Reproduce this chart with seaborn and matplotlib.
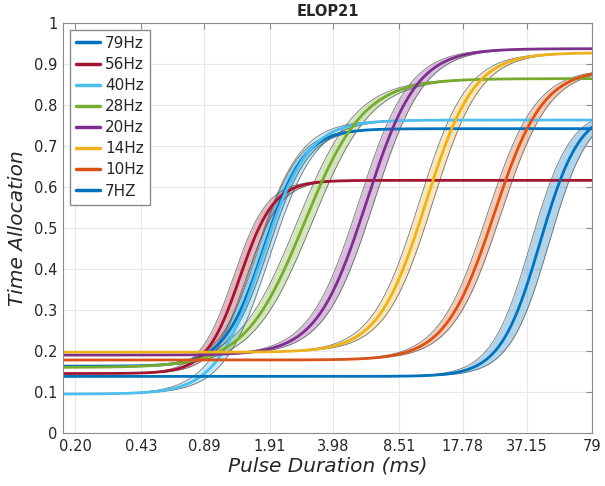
import numpy as np
import pandas as pd
import matplotlib.pyplot as plt
import seaborn as sns

# Fitted sigmoid parameters (x50 in ms, width and band shift in decades)
labels = ['79Hz', '56Hz', '40Hz', '28Hz', '20Hz', '14Hz', '10Hz', '7HZ']
colors = ['#0072BD', '#A2142F', '#4DBEEE', '#77AC30', '#7E2F8E', '#EDB120', '#D95319', '#0072BD']
bottom = [0.163, 0.145, 0.095, 0.160, 0.190, 0.197, 0.178, 0.138]
top = [0.742, 0.616, 0.763, 0.864, 0.937, 0.927, 0.888, 0.790]
x50 = [1.78, 1.35, 1.74, 2.84, 5.83, 11.6, 25.5, 43.4]
width = [0.100, 0.085, 0.115, 0.150, 0.126, 0.120, 0.123, 0.100]
ci_shift = [0.025, 0.033, 0.038, 0.038, 0.038, 0.034, 0.034, 0.046]

xticks = [0.20, 0.43, 0.89, 1.91, 3.98, 8.51, 17.78, 37.15, 79]
xtick_labels = ['0.20', '0.43', '0.89', '1.91', '3.98', '8.51', '17.78', '37.15', '79']
yticks = [0, 0.1, 0.2, 0.3, 0.4, 0.5, 0.6, 0.7, 0.8, 0.9, 1]
ytick_labels = ['0', '0.1', '0.2', '0.3', '0.4', '0.5', '0.6', '0.7', '0.8', '0.9', '1']


def sigmoid(x, b, t, m, w):
    return b + (t - b) / (1 + np.exp(-(np.log10(x) - np.log10(m)) / w))


xs = np.logspace(np.log10(0.174), np.log10(79.5), 500)
rows = []
for lab, b, t, m, w in zip(labels, bottom, top, x50, width):
    rows.append(pd.DataFrame({'dur': xs, 'alloc': sigmoid(xs, b, t, m, w), 'freq': lab}))
df = pd.concat(rows, ignore_index=True)

sns.set_style('white')
plt.rcParams['font.family'] = ['DejaVu Sans']

fig = plt.figure(figsize=(6.05, 4.86), dpi=100)
ax = fig.add_axes([0.104, 0.109, 0.875, 0.844])

# confidence bands
for c, b, t, m, w, d in zip(colors, bottom, top, x50, width, ci_shift):
    hi = sigmoid(xs, b, t, m / 10 ** d, w)
    lo = sigmoid(xs, b, t, m * 10 ** d, w)
    ax.fill_between(xs, lo, hi, color=c, alpha=0.3, lw=0, zorder=1)
    ax.plot(xs, hi, color='#555555', lw=0.6, alpha=0.8, zorder=1.5)
    ax.plot(xs, lo, color='#555555', lw=0.6, alpha=0.8, zorder=1.5)

sns.lineplot(data=df, x='dur', y='alloc', hue='freq', hue_order=labels,
             palette=dict(zip(labels, colors)), lw=2, estimator=None, sort=False, ax=ax, zorder=2)

ax.set_xscale('log')
ax.set_xlim(0.174, 79.5)
ax.set_ylim(0, 1)
ax.set_xticks(xticks)
ax.set_xticklabels(xtick_labels)
ax.minorticks_off()
ax.set_yticks(yticks)
ax.set_yticklabels(ytick_labels)
ax.grid(True, color='#e8e8e8', lw=0.8)
ax.tick_params(direction='in', top=True, right=True, length=4, color='#8a8a8a',
               labelsize=10.5, labelcolor='#262626', pad=4)
for s in ax.spines.values():
    s.set_color('#8a8a8a')
    s.set_linewidth(0.8)

ax.set_title('ELOP21', fontsize=10.5, fontweight='bold', pad=5)
ax.set_xlabel('Pulse Duration (ms)', fontsize=14.5, style='italic', color='#262626', labelpad=2)
ax.set_ylabel('Time Allocation', fontsize=14.5, style='italic', color='#262626', labelpad=5)

sns.move_legend(ax, 'upper left', title=None, fontsize=11, frameon=True, fancybox=False,
                edgecolor='#8a8a8a', framealpha=1, handlelength=1.6, labelspacing=0.4,
                borderaxespad=0.45, handletextpad=0.3, borderpad=0.4)
for line in ax.get_legend().get_lines():
    line.set_linewidth(2.5)

plt.savefig('out.png', dpi=100)
